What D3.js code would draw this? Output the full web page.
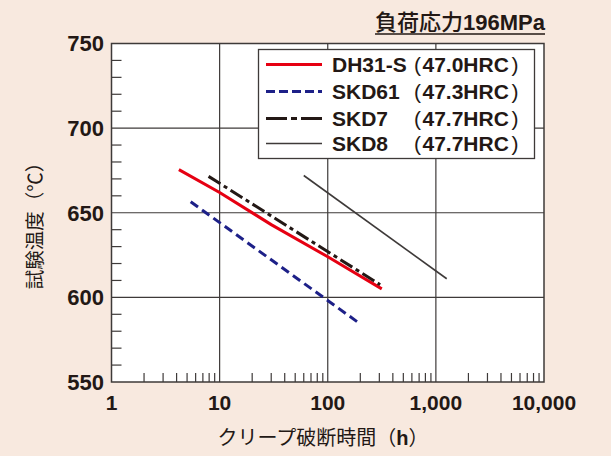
<!DOCTYPE html>
<html><head><meta charset="utf-8">
<script src="https://cdn.jsdelivr.net/npm/d3@7"></script>
<style>
html,body{margin:0;padding:0;background:#f8e9df;}
svg{display:block;}
</style></head>
<body>
<svg id="c" width="611" height="456"></svg>
<script>
const xTicks = [1, 10, 100, 1000, 10000];
const yTicks = [550, 600, 650, 700, 750];
const seriesNames = ["DH31-S", "SKD61", "SKD7", "SKD8"];
const seriesHardness = ["47.0HRC", "47.3HRC", "47.7HRC", "47.7HRC"];
const dh31s = [[4.2, 675.5], [10, 662], [30, 643], [100, 624], [316, 605]];
const skd61 = [[5.4, 656.5], [193, 585]];
const skd7 = [[7.9, 671.5], [305, 607.5]];
const skd8 = [[60, 672], [1260, 611]];
const titleText = ["負荷応力", "196MPa"];
const xLabel = ["クリープ破断時間", "（", "h", "）"];
const yLabel = "試験温度（℃）";

const seriesData = [dh31s, skd61, skd7, skd8];
const styles = [
  {color: "#e60012", width: 3, dash: null, legDash: null},
  {color: "#1d2088", width: 3, dash: "9,5", legDash: "9,4"},
  {color: "#231815", width: 3, dash: "14,4,4,4", legDash: "21,4,6,4"},
  {color: "#3e3a39", width: 1.6, dash: null, legDash: null}
];

const svg = d3.select("#c");
const L = 111.5, R = 544, T = 43.5, B = 382;
const x = d3.scaleLog().domain([1, 10000]).range([L, R]);
const y = d3.scaleLinear().domain([550, 750]).range([B, T]);
const ink = "#231815";
const latin = "'Liberation Sans', Arial, sans-serif";
const cjk = "'Noto Sans CJK JP', sans-serif";

svg.append("rect").attr("x", L).attr("y", T).attr("width", R - L).attr("height", B - T).attr("fill", "#fff");

// gridlines
const g = svg.append("g").attr("stroke", "#3e3a39").attr("stroke-width", 1.2);
xTicks.slice(1, -1).forEach(v => g.append("line").attr("x1", x(v)).attr("x2", x(v)).attr("y1", T).attr("y2", B));
yTicks.slice(1, -1).forEach(v => g.append("line").attr("x1", L).attr("x2", R).attr("y1", y(v)).attr("y2", y(v)));

// minor ticks
const minorX = [];
for (let d = 1; d < 10000; d *= 10) for (let k = 2; k <= 9; k++) minorX.push(d * k);
minorX.forEach(v => g.append("line").attr("x1", x(v)).attr("x2", x(v)).attr("y1", B).attr("y2", B - 9));
d3.range(560, 750, 10).filter(v => v % 50 !== 0).forEach(v =>
  g.append("line").attr("x1", L).attr("x2", L + 10).attr("y1", y(v)).attr("y2", y(v)));

// frame
svg.append("rect").attr("x", L).attr("y", T).attr("width", R - L).attr("height", B - T)
  .attr("fill", "none").attr("stroke", "#3e3a39").attr("stroke-width", 1.5);

// tick labels
svg.append("g").selectAll("text").data(yTicks).join("text")
  .attr("x", 104).attr("y", d => y(d)).attr("dy", "0.36em").attr("text-anchor", "end")
  .attr("font-family", latin).attr("font-weight", "bold").attr("font-size", 22).attr("fill", ink)
  .text(d => d);
svg.append("g").selectAll("text").data(xTicks).join("text")
  .attr("x", d => x(d)).attr("y", 410).attr("text-anchor", "middle")
  .attr("font-family", latin).attr("font-weight", "bold").attr("font-size", 21).attr("fill", ink)
  .text(d => d3.format(",")(d));

// lines
const line = d3.line().x(d => x(d[0])).y(d => y(d[1]));
seriesData.forEach((s, i) => {
  svg.append("path").datum(s).attr("d", line).attr("fill", "none")
    .attr("stroke", styles[i].color).attr("stroke-width", styles[i].width)
    .attr("stroke-dasharray", styles[i].dash);
});

// legend
svg.append("rect").attr("x", 258.5).attr("y", 49.5).attr("width", 276).attr("height", 109)
  .attr("fill", "#fff").attr("stroke", "#3e3a39").attr("stroke-width", 1.3);
const rowY = [64.5, 91.5, 118.5, 143.5];
seriesNames.forEach((n, i) => {
  svg.append("line").attr("x1", 266).attr("x2", 322).attr("y1", rowY[i]).attr("y2", rowY[i])
    .attr("stroke", styles[i].color).attr("stroke-width", styles[i].width === 3 ? 3 : 1.6)
    .attr("stroke-dasharray", styles[i].legDash);
  const t = svg.append("text").attr("y", rowY[i] + 7.5)
    .attr("font-family", latin).attr("font-weight", "bold").attr("font-size", 21).attr("fill", ink);
  t.append("tspan").attr("x", 332).text(n);
  t.append("tspan").attr("x", 414).attr("font-weight", "normal").text("(");
  t.append("tspan").attr("dx", 1.5).text(seriesHardness[i]);
  t.append("tspan").attr("dx", 2.5).attr("font-weight", "normal").text(")");
});

// title
const tt = svg.append("text").attr("x", 545).attr("y", 30).attr("text-anchor", "end")
  .attr("font-size", 22).attr("fill", ink);
tt.append("tspan").attr("font-family", cjk).attr("font-weight", 500).text(titleText[0]);
tt.append("tspan").attr("font-family", latin).attr("font-weight", "bold").text(titleText[1]);
const tw = tt.node().getComputedTextLength();
svg.append("line").attr("x1", 545 - tw).attr("x2", 545).attr("y1", 34).attr("y2", 34)
  .attr("stroke", ink).attr("stroke-width", 1.3);

// x label
const xl = svg.append("text").attr("x", 323).attr("y", 445).attr("text-anchor", "middle")
  .attr("font-size", 20).attr("fill", ink).attr("font-family", cjk);
xl.append("tspan").text(xLabel[0]);
xl.append("tspan").text(xLabel[1]);
xl.append("tspan").attr("font-family", latin).attr("font-weight", "bold").text(xLabel[2]);
xl.append("tspan").text(xLabel[3]);

// y label
svg.append("text").attr("transform", "translate(42,221) rotate(-90)").attr("text-anchor", "middle")
  .attr("font-family", cjk).attr("font-size", 19.5).attr("fill", ink).text(yLabel);
</script>
</body></html>
